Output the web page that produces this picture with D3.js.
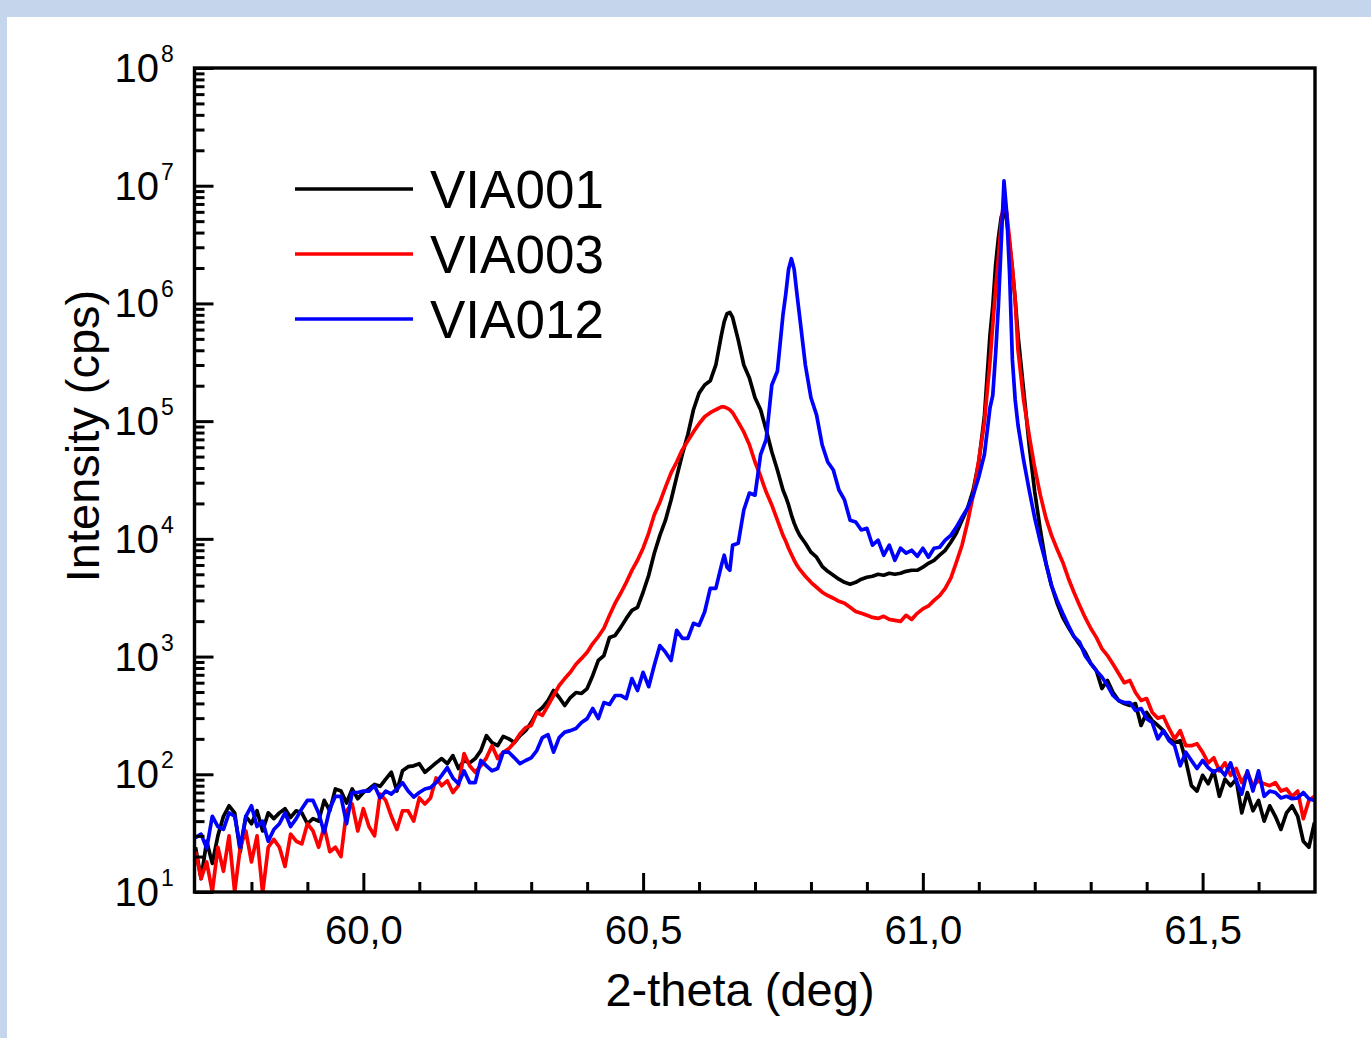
<!DOCTYPE html>
<html><head><meta charset="utf-8">
<script src="https://cdn.jsdelivr.net/npm/d3@7"></script>
<style>
html,body{margin:0;padding:0;background:#c5d5ec;}
svg{display:block;}
</style></head><body>
<svg id="chart" width="1371" height="1038"></svg>
<script>
// ---------- data ----------
const theta = [
59.70,59.71,59.72,59.73,59.74,59.75,59.76,59.77,59.78,59.79,
59.80,59.81,59.82,59.83,59.84,59.85,59.86,59.87,59.88,59.89,
59.90,59.91,59.92,59.93,59.94,59.95,59.96,59.97,59.98,59.99,
60.00,60.01,60.02,60.03,60.04,60.05,60.06,60.07,60.08,60.09,
60.10,60.11,60.12,60.13,60.14,60.15,60.16,60.17,60.18,60.19,
60.20,60.21,60.22,60.23,60.24,60.25,60.26,60.27,60.28,60.29,
60.30,60.31,60.32,60.33,60.34,60.35,60.36,60.37,60.38,60.39,
60.40,60.41,60.42,60.43,60.44,60.45,60.46,60.47,60.48,60.49,
60.50,60.51,60.52,60.53,60.54,60.55,60.56,60.57,60.58,60.59,
60.60,60.61,60.62,60.63,60.64,
60.645,60.65,60.655,60.66,60.67,60.68,60.69,
60.70,60.71,60.72,60.73,60.74,60.75,
60.755,60.76,60.765,60.77,60.775,60.78,60.79,
60.80,60.81,60.82,60.83,60.84,60.85,60.86,60.87,60.88,60.89,
60.90,60.91,60.92,60.93,60.94,60.95,60.96,60.97,60.98,60.99,
61.00,61.01,61.02,61.03,61.04,61.05,61.06,61.07,61.08,61.09,
61.10,61.11,61.12,
61.125,61.13,61.135,61.14,61.145,61.15,61.155,61.16,61.165,
61.17,61.18,61.19,
61.20,61.21,61.22,61.23,61.24,61.25,61.26,61.27,61.28,61.29,
61.30,61.31,61.32,61.33,61.34,61.35,61.36,61.37,61.38,61.39,
61.40,61.41,61.42,61.43,61.44,61.45,61.46,61.47,61.48,61.49,
61.50,61.51,61.52,61.53,61.54,61.55,61.56,61.57,61.58,61.59,
61.60,61.61,61.62,61.63,61.64,61.65,61.66,61.67,61.68,61.69,
61.70
];

const via001 = [
24,13,27,17.5,30,44,54,47,22,44,
38,49,33,47,42,47,51,43,49,47,
38,42,40,60,49,75,72,57,75,62,
70,75,82,79,91,104,72,107,116,118,
123,104,114,125,136,123,144,112,131,125,
136,159,213,186,175,210,200,186,213,235,
275,335,369,423,515,449,384,449,495,486,
535,691,927,1020,1455,1513,1770,2110,2470,2620,
3520,4900,7550,10700,14400,21400,33600,52000,77000,125000,
173000,203000,220000,300000,540000,
700000,820000,840000,760000,490000,300000,233000,
158000,125000,84000,55000,38500,26000,
22700,19400,16000,13600,11900,10700,9180,
7700,6980,5850,5300,4910,4540,4270,4120,4270,4540,
4720,4810,5000,4910,5100,5000,5100,5300,5410,5410,
5740,6200,6580,7260,8000,9370,11200,14400,18300,26000,
45000,110000,540000,
950000,2100000,3600000,5400000,6300000,5000000,3200000,1950000,1080000,
543000,185000,62800,
25000,11900,6200,4000,2840,2150,1770,1480,1270,1090,
875,762,535,626,495,423,399,384,399,260,
335,286,260,235,200,186,193,131,80,72,
98,83,107,65,91,80,91,47,70,49,
60,40,54,44,34,47,54,44,27,24,
39
];

const via003 = [
22,13,18,10,24,15,30,10,24,33,
18,30,9.8,24,28,24,16.5,31,27,25.6,
38,33,24,36,22,24,20,49,56,33,
51,36,30,68,60,44,34,49,49,40,
63,56,63,93,80,88,70,80,150,118,
104,118,138,175,136,154,165,186,221,249,
260,335,316,384,467,568,650,735,860,965,
1090,1290,1480,1740,2240,2840,3450,4270,5400,6580,
8330,11200,16000,20500,27500,36300,45000,57000,68000,81000,
95000,109000,118000,125000,132000,
132000,129000,125000,118000,98000,81000,63000,
45000,34000,25000,19400,14400,10700,
9550,8330,7400,6580,5960,5500,4810,
4270,3880,3520,3300,3130,2950,2840,2620,2420,2330,
2240,2150,2110,2200,2070,2030,1990,2240,2070,2330,
2540,2690,3000,3300,3800,4630,6330,8830,13900,23500,
46800,98000,320000,
660000,1300000,2450000,4700000,7700000,5800000,3500000,2000000,1080000,
405000,152000,76000,
40000,23500,15000,10700,8170,6330,4630,3520,2730,2150,
1740,1455,1170,1020,860,718,600,626,495,423,
440,335,300,310,245,200,235,175,175,182,
154,125,138,107,125,98,112,85,104,80,
88,83,80,85,72,75,65,72,42,60,
65
];

const via012 = [
29,31,23.5,44,36,34,47,44,24,44,
54,36,40,27,34,38,47,36,42,51,
60,60,47,32,51,65,65,38,70,70,
72,72,80,63,72,68,75,85,72,64,
70,75,77,85,98,114,93,83,107,85,
85,131,118,107,112,154,154,138,123,131,
138,159,205,217,154,205,228,235,245,275,
297,362,297,407,392,467,467,440,650,515,
735,555,845,1240,1090,927,1670,1430,1430,1915,
1840,2390,3800,3800,5960,
7260,5740,5410,8830,9180,17600,24500,
23500,52000,70000,203000,265000,800000,
1200000,1950000,2400000,1950000,1200000,760000,300000,
158000,113000,63000,45000,38500,26000,21400,14400,13900,11900,
12300,8830,9740,7260,8830,6580,8330,7550,8000,7100,
8330,6980,8330,8490,9740,10700,12600,15300,18300,23500,
33600,52000,130000,
166000,370000,950000,3200000,11000000,5800000,1800000,333000,152000,
93000,46800,26000,
15000,9380,6200,4000,3000,2330,1840,1480,1330,1020,
875,760,670,568,467,423,407,407,348,362,
297,275,200,235,193,175,118,154,131,112,
131,114,104,112,98,125,88,68,107,72,
107,65,72,70,63,65,62,63,70,62,
60
];

const seriesNames = ["VIA001", "VIA003", "VIA012"];
const seriesValues = [via001, via003, via012];
const seriesColors = ["#000000", "#ff0000", "#0000ff"];

const xDomain = [59.7, 61.7];
const xMajorTicks = [60.0, 60.5, 61.0, 61.5];
const xTickLabels = ["60,0", "60,5", "61,0", "61,5"];
const xMinorTicks = [59.8, 59.9, 60.1, 60.2, 60.3, 60.4, 60.6, 60.7, 60.8, 60.9, 61.1, 61.2, 61.3, 61.4, 61.6];
const yDomain = [1e1, 1e8];
const yMajorTicks = [1e1, 1e2, 1e3, 1e4, 1e5, 1e6, 1e7, 1e8];
const yTickExponents = ["1", "2", "3", "4", "5", "6", "7", "8"];
const xTitle = "2-theta (deg)";
const yTitle = "Intensity (cps)";

// ---------- layout ----------
const W = 1371, H = 1038;
const L = 195.5, R = 1314.5, T = 68, B = 892;
const FONT = "'Liberation Sans', Arial, Helvetica, sans-serif";

const svg = d3.select("#chart");
svg.append("rect").attr("x", 0).attr("y", 0).attr("width", W).attr("height", H).attr("fill", "#c5d5ec");
svg.append("rect").attr("x", 7).attr("y", 17).attr("width", W - 7).attr("height", H - 17).attr("fill", "#ffffff");

const x = d3.scaleLinear().domain(xDomain).range([L, R]);
const y = d3.scaleLog().domain(yDomain).range([B, T]);

svg.append("defs").append("clipPath").attr("id", "plotclip")
  .append("rect").attr("x", L - 1).attr("y", T).attr("width", R - L + 2).attr("height", B - T);

// data lines
const line = d3.line()
  .x((d, i) => x(theta[i]))
  .y(d => y(d));

const gLines = svg.append("g").attr("clip-path", "url(#plotclip)");
seriesValues.forEach((vals, k) => {
  gLines.append("path")
    .datum(vals)
    .attr("d", line)
    .attr("fill", "none")
    .attr("stroke", seriesColors[k])
    .attr("stroke-width", 3.7)
    .attr("stroke-linejoin", "round");
});

// axes ticks (inward)
function styleAxis(g) {
  g.select(".domain").remove();
  g.selectAll(".tick line").attr("stroke", "#000").attr("stroke-width", 3);
}
svg.append("g").attr("transform", `translate(0,${B})`)
  .call(d3.axisBottom(x).tickValues(xMinorTicks).tickSize(-10).tickFormat(""))
  .call(styleAxis);
const gxMaj = svg.append("g").attr("transform", `translate(0,${B})`)
  .call(d3.axisBottom(x).tickValues(xMajorTicks).tickSize(-19).tickPadding(24)
    .tickFormat((d, i) => xTickLabels[i]))
  .call(styleAxis);
gxMaj.selectAll("text").attr("font-family", FONT).attr("font-size", 40).attr("fill", "#000");

const yMinor = y.ticks().filter(v => !yMajorTicks.some(m => Math.abs(m - v) / m < 1e-9));
svg.append("g").attr("transform", `translate(${L - 1},0)`)
  .call(d3.axisLeft(y).tickValues(yMinor).tickSize(-10).tickFormat(""))
  .call(styleAxis);
svg.append("g").attr("transform", `translate(${L - 1},0)`)
  .call(d3.axisLeft(y).tickValues(yMajorTicks).tickSize(-19).tickFormat(""))
  .call(styleAxis);

// y tick labels 10^n
const gyl = svg.append("g").attr("font-family", FONT).attr("fill", "#000");
yMajorTicks.forEach((v, i) => {
  gyl.append("text").attr("x", 159).attr("y", y(v) + 14)
    .attr("text-anchor", "end").attr("font-size", 40).text("10");
  gyl.append("text").attr("x", 161).attr("y", y(v) - 6)
    .attr("text-anchor", "start").attr("font-size", 23).text(yTickExponents[i]);
});

// frame
svg.append("rect").attr("x", L - 1).attr("y", T).attr("width", R - L + 1.5).attr("height", B - T)
  .attr("fill", "none").attr("stroke", "#000").attr("stroke-width", 3.4);

// axis titles
svg.append("text").attr("x", 740).attr("y", 1006).attr("text-anchor", "middle")
  .attr("font-family", FONT).attr("font-size", 47).attr("fill", "#000").text(xTitle);
svg.append("text").attr("transform", "translate(99,436) rotate(-90)").attr("text-anchor", "middle")
  .attr("font-family", FONT).attr("font-size", 47).attr("fill", "#000").text(yTitle);

// legend
const legY = [189, 254, 319];
seriesNames.forEach((name, k) => {
  svg.append("line").attr("x1", 295).attr("x2", 413).attr("y1", legY[k]).attr("y2", legY[k])
    .attr("stroke", seriesColors[k]).attr("stroke-width", 3.6);
  svg.append("text").attr("x", 430).attr("y", legY[k] + 18.5)
    .attr("font-family", FONT).attr("font-size", 53).attr("fill", "#000").text(name);
});
</script>
</body></html>
